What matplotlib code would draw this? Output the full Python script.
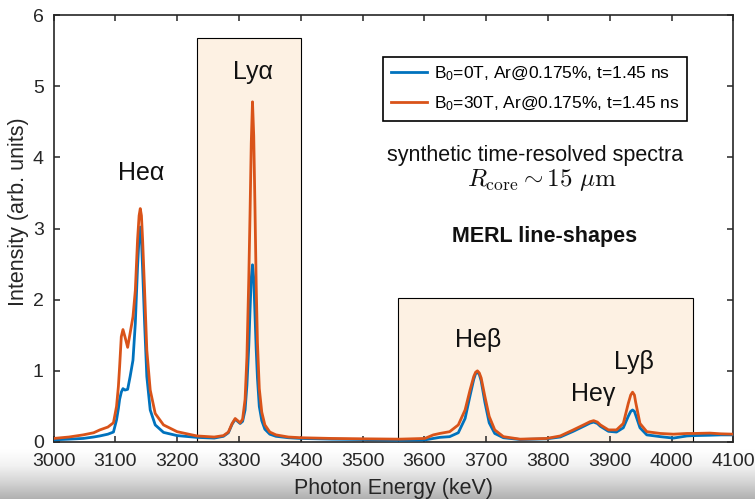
import numpy as np
import matplotlib
matplotlib.use("Agg")
import matplotlib.pyplot as plt
from matplotlib.patches import Rectangle
from matplotlib.colors import LinearSegmentedColormap

plt.rcParams['font.family'] = ['Liberation Sans', 'DejaVu Sans']
plt.rcParams['mathtext.fontset'] = 'custom'
plt.rcParams['mathtext.rm'] = 'Liberation Sans'
plt.rcParams['mathtext.it'] = 'Liberation Sans:italic'
plt.rcParams['mathtext.bf'] = 'Liberation Sans:bold'

# ---------------- data ----------------
energy = [3000, 3025, 3048, 3065, 3075, 3088, 3097, 3102, 3105, 3107, 3109.7, 3112.4,
          3115.6, 3120, 3124, 3128.6, 3132.4, 3136, 3138.5, 3140.4, 3142.3, 3144.2,
          3147.4, 3151, 3156.5, 3164.6, 3178, 3200, 3232, 3260, 3275, 3283, 3289,
          3294, 3298, 3302, 3306, 3310, 3313, 3316, 3318, 3320, 3322, 3324, 3326,
          3328, 3330, 3333, 3337, 3342, 3350, 3360, 3380, 3400, 3450, 3500, 3560,
          3601, 3614.6, 3625, 3641, 3655, 3666, 3674, 3680, 3683, 3686, 3689, 3692,
          3698, 3705, 3714, 3728, 3755, 3798, 3820, 3841, 3860, 3868, 3874, 3880,
          3885, 3898, 3911, 3922, 3930, 3934, 3937, 3940, 3942, 3949, 3960, 3982,
          4003, 4025, 4036, 4062, 4080, 4100]

intensity_B30 = [0.05, 0.07, 0.10, 0.13, 0.17, 0.21, 0.27, 0.50, 0.78, 1.06, 1.48, 1.58,
                 1.48, 1.33, 1.53, 1.76, 2.13, 2.84, 3.18, 3.28, 3.18, 2.84,
                 2.13, 1.29, 0.73, 0.40, 0.24, 0.145, 0.085, 0.07, 0.09, 0.14, 0.26,
                 0.33, 0.30, 0.27, 0.32, 0.60, 1.20, 2.30, 3.20, 4.20, 4.78, 4.30, 3.30,
                 2.20, 1.40, 0.75, 0.42, 0.24, 0.14, 0.10, 0.07, 0.06, 0.05, 0.045, 0.04,
                 0.05, 0.10, 0.12, 0.145, 0.24, 0.45, 0.73, 0.92, 0.98, 1.00, 0.97, 0.90,
                 0.64, 0.36, 0.17, 0.075, 0.04, 0.05, 0.085, 0.17, 0.25, 0.285, 0.30, 0.28,
                 0.24, 0.17, 0.17, 0.26, 0.54, 0.66, 0.70, 0.66, 0.56, 0.26, 0.145, 0.12,
                 0.11, 0.12, 0.12, 0.125, 0.115, 0.11]

intensity_B0 = [0.03, 0.04, 0.05, 0.07, 0.085, 0.11, 0.14, 0.31, 0.47, 0.60, 0.70, 0.75,
                0.73, 0.74, 0.92, 1.15, 1.67, 2.46, 2.88, 3.02, 2.85, 2.43,
                1.67, 0.92, 0.45, 0.24, 0.135, 0.09, 0.065, 0.055, 0.08, 0.13, 0.25,
                0.32, 0.29, 0.26, 0.29, 0.45, 0.80, 1.35, 1.85, 2.30, 2.49, 2.30, 1.80,
                1.30, 0.90, 0.50, 0.30, 0.18, 0.11, 0.08, 0.06, 0.05, 0.04, 0.035, 0.025,
                0.03, 0.05, 0.065, 0.075, 0.13, 0.33, 0.65, 0.88, 0.96, 0.98, 0.95, 0.86,
                0.56, 0.27, 0.12, 0.06, 0.035, 0.045, 0.07, 0.15, 0.23, 0.265, 0.28, 0.26,
                0.22, 0.15, 0.14, 0.20, 0.36, 0.43, 0.45, 0.43, 0.38, 0.20, 0.10, 0.075,
                0.055, 0.085, 0.09, 0.095, 0.10, 0.10]

series_labels = [r"B$_0$=0T, Ar@0.175%, t=1.45 ns", r"B$_0$=30T, Ar@0.175%, t=1.45 ns"]

box_x0 = [3233, 3558]
box_x1 = [3401, 4035]
box_top = [5.67, 2.03]

line_names = ["Heα", "Lyα", "Heβ", "Heγ", "Lyβ"]
line_x = [3142, 3322, 3687, 3874, 3939]
line_y = [3.78, 5.2, 1.43, 0.67, 1.12]

xticks = [3000, 3100, 3200, 3300, 3400, 3500, 3600, 3700, 3800, 3900, 4000, 4100]
yticks = [0, 1, 2, 3, 4, 5, 6]

# ---------------- figure ----------------
fig = plt.figure(figsize=(7.55, 4.99), dpi=100)

# bottom gray gradient band (screenshot shading)
gax = fig.add_axes([0, 0, 1, 0.10], zorder=-5)
grad = np.linspace(0, 1, 256).reshape(-1, 1)
cmap = LinearSegmentedColormap.from_list("g", ["#b0b0b0", "#d4d4d4", "#f2f2f2", "#ffffff"])
gax.imshow(grad, aspect='auto', cmap=cmap, origin='lower', extent=[0, 1, 0, 1])
gax.set_axis_off()

ax = fig.add_axes([53.5 / 755, 57 / 499, 679.8 / 755, 427 / 499], zorder=1)
ax.set_facecolor('none')

for x0, x1, top in zip(box_x0, box_x1, box_top):
    ax.add_patch(Rectangle((x0, 0), x1 - x0, top, facecolor='#fdf1e3',
                           edgecolor='black', linewidth=0.8, zorder=1))

ax.plot(energy, intensity_B0, color='#0072BD', lw=2.0, label=series_labels[0], zorder=3)
ax.plot(energy, intensity_B30, color='#D95319', lw=2.0, label=series_labels[1], zorder=4)

for name, x, y in zip(line_names, line_x, line_y):
    ax.text(x, y, name, fontsize=18, ha='center', va='center', color='#111111', zorder=5)

ax.text(3780, 4.03, "synthetic time-resolved spectra", fontsize=15.5, ha='center',
        va='center', color='#111111')
ax.text(3791, 3.68, r"$R_{\rm core} \sim 15\ \mu{\rm m}$", fontsize=18, ha='center',
        va='center', color='#111111', math_fontfamily='cm')
ax.text(3794, 2.89, "MERL line-shapes", fontsize=15.5, ha='center', va='center',
        fontweight='bold', color='#111111')

ax.set_xlim(3000, 4100)
ax.set_ylim(0, 6)
ax.set_xticks(xticks)
ax.set_yticks(yticks)
ax.tick_params(direction='in', length=4.5, width=1.1, top=True, right=True,
               labelsize=14, colors='#262626')
ax.tick_params(axis='x', pad=8)
ax.tick_params(axis='y', pad=7)
for s in ax.spines.values():
    s.set_linewidth(1.2)
    s.set_color('#262626')
ax.set_xlabel("Photon Energy (keV)", fontsize=15.5, color='#262626', labelpad=6)
ax.set_ylabel("Intensity (arb. units)", fontsize=15.5, color='#262626')
ax.yaxis.set_label_coords(-0.036, 0.54)

leg = ax.legend(loc='upper left', bbox_to_anchor=(0.485, 0.902), fontsize=12.5,
                frameon=True, fancybox=False, handlelength=2.1, handletextpad=0.35,
                borderpad=0.45, labelspacing=0.65, borderaxespad=0)
leg.get_frame().set_edgecolor('black')
leg.get_frame().set_linewidth(1.2)
leg.get_frame().set_alpha(1)

fig.savefig("out.png", dpi=100)
